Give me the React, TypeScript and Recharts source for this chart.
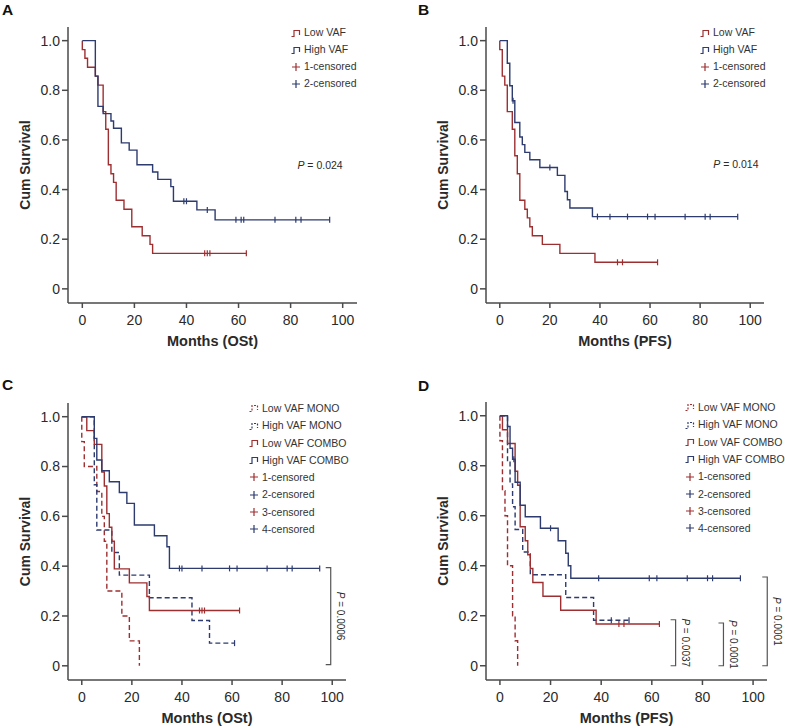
import React from 'react'
import { LineChart, Line, XAxis, YAxis, Legend, ReferenceLine, ReferenceDot } from 'recharts'

const RED = '#9e2f31'
const BLUE = '#2d3b6f'
const AXIS = '#4a4a4a'
const TEXT = '#2a2a2a'
const FONT = '"Liberation Sans", Arial, Helvetica, sans-serif'

const X_TICKS = [0, 20, 40, 60, 80, 100]
const Y_TICKS = [0, 0.2, 0.4, 0.6, 0.8, 1]

// A: overall survival, low vs high VAF
const aLowT = [0, 0, 1, 2, 5, 6, 8, 9, 10, 11, 12, 13, 16, 19, 23, 26, 27]
const aLowS = [1, 0.964, 0.929, 0.893, 0.857, 0.821, 0.714, 0.643, 0.5, 0.464, 0.429, 0.357, 0.321, 0.25, 0.214, 0.179, 0.143]
const aLowCens = [47, 48, 49, 63]
const aHighT = [0, 5, 6, 8, 11, 12, 15, 18, 21, 27, 29, 34, 35, 44, 51]
const aHighS = [1, 0.857, 0.735, 0.706, 0.676, 0.647, 0.588, 0.559, 0.5, 0.471, 0.441, 0.412, 0.353, 0.318, 0.278]
const aHighCens = [39, 40, 48, 59, 61, 62, 74, 82, 84, 95]

// B: PFS, low vs high VAF
const bLowT = [0, 0, 1, 2, 3, 5, 6, 7, 8, 10, 11, 12, 13, 17, 24, 38]
const bLowS = [1, 0.964, 0.857, 0.821, 0.714, 0.643, 0.536, 0.464, 0.357, 0.321, 0.286, 0.25, 0.214, 0.179, 0.143, 0.107]
const bLowCens = [47, 49, 63]
const bHighT = [0, 3, 4, 5, 6, 8, 9, 10, 12, 16, 23, 26, 27, 28, 37]
const bHighS = [1, 0.909, 0.818, 0.758, 0.67, 0.612, 0.581, 0.55, 0.52, 0.489, 0.457, 0.392, 0.359, 0.326, 0.291]
const bHighCens = [5.3, 20, 39, 44, 51, 59, 62, 74, 82, 84, 95]

// C: overall survival by VAF x treatment
const cLoMonoT = [0, 0, 1, 6, 8, 9, 10, 16, 19, 23]
const cLoMonoS = [1, 0.9, 0.8, 0.7, 0.6, 0.5, 0.3, 0.2, 0.1, 0]
const cHiMonoT = [0, 5, 6, 12, 15, 27, 44, 51]
const cHiMonoS = [1, 0.727, 0.545, 0.455, 0.364, 0.273, 0.182, 0.091]
const cHiMonoCens = [61]
const cLoComboT = [0, 2, 5, 8, 9, 10, 11, 12, 13, 19, 26, 27]
const cLoComboS = [1, 0.944, 0.889, 0.778, 0.722, 0.611, 0.556, 0.5, 0.389, 0.333, 0.278, 0.222]
const cLoComboCens = [47, 48, 49, 63]
const cHiComboT = [0, 5, 6, 8, 11, 15, 18, 21, 29, 34, 35]
const cHiComboS = [1, 0.913, 0.826, 0.783, 0.739, 0.696, 0.652, 0.565, 0.522, 0.478, 0.391]
const cHiComboCens = [39, 40, 48, 59, 62, 74, 82, 84, 95]

// D: PFS by VAF x treatment
const dLoMonoT = [0, 0, 1, 2, 3, 5, 6, 7]
const dLoMonoS = [1, 0.9, 0.7, 0.6, 0.4, 0.2, 0.1, 0]
const dHiMonoT = [0, 3, 4, 5, 6, 9, 12, 26, 37]
const dHiMonoS = [1, 0.818, 0.727, 0.636, 0.545, 0.455, 0.364, 0.273, 0.182]
const dHiMonoCens = [44, 51]
const dLoComboT = [0, 1, 3, 6, 7, 8, 10, 11, 12, 13, 17, 24, 38]
const dLoComboS = [1, 0.944, 0.889, 0.778, 0.722, 0.556, 0.5, 0.444, 0.389, 0.333, 0.278, 0.222, 0.167]
const dLoComboCens = [47, 49, 63]
const dHiComboT = [0, 3, 4, 5, 6, 8, 10, 16, 23, 26, 27, 28]
const dHiComboS = [1, 0.957, 0.87, 0.826, 0.734, 0.642, 0.596, 0.55, 0.5, 0.45, 0.4, 0.35]
const dHiComboCens = [5.5, 20, 39, 59, 62, 74, 82, 84, 95]

// p-value annotations
const aP = { x: 100, y: 0.5, p: '0.024' }
const bP = { x: 103.3, y: 0.505, p: '0.014' }
const cBrackets = [{ x: 99.4, top: 0.394, bottom: 0.005, p: '0.0006' }]
const dBrackets = [
  { x: 69.4, top: 0.184, bottom: 0, p: '0.0037' },
  { x: 88.3, top: 0.171, bottom: 0, p: '0.0001' },
  { x: 105.6, top: 0.355, bottom: 0, p: '0.0001' },
]

type Pt = { t: number; s: number; c?: boolean }
type Series = { data: Pt[]; color: string; dashed?: boolean }
type LegendItem = { label: string; kind: 'step' | 'dash' | 'cens'; color: string }
type Bracket = { x: number; top: number; bottom: number; p: string }

// step points + censor marks (a censor sits on the current step value)
function km(times: number[], surv: number[], cens: number[] = []): Pt[] {
  const pts: Pt[] = times.map((t, i) => ({ t, s: surv[i] }))
  cens.forEach((t) => {
    let s = surv[0]
    times.forEach((et, i) => {
      if (et <= t) s = surv[i]
    })
    pts.push({ t, s, c: true })
  })
  return pts.sort((a, b) => a.t - b.t || (a.c ? 1 : 0) - (b.c ? 1 : 0))
}

const twoGroupLegend: LegendItem[] = [
  { label: 'Low VAF', kind: 'step', color: RED },
  { label: 'High VAF', kind: 'step', color: BLUE },
  { label: '1-censored', kind: 'cens', color: RED },
  { label: '2-censored', kind: 'cens', color: BLUE },
]
const fourGroupLegend: LegendItem[] = [
  { label: 'Low VAF MONO', kind: 'dash', color: RED },
  { label: 'High VAF MONO', kind: 'dash', color: BLUE },
  { label: 'Low VAF COMBO', kind: 'step', color: RED },
  { label: 'High VAF COMBO', kind: 'step', color: BLUE },
  { label: '1-censored', kind: 'cens', color: RED },
  { label: '2-censored', kind: 'cens', color: BLUE },
  { label: '3-censored', kind: 'cens', color: RED },
  { label: '4-censored', kind: 'cens', color: BLUE },
]

const censorDot = (color: string) => (props: any) => {
  const { cx, cy, payload, index } = props
  if (!payload || !payload.c) return <g key={index} />
  return <line key={index} x1={cx} x2={cx} y1={cy - 3} y2={cy + 3} stroke={color} strokeWidth={1.2} />
}

function Glyph({ kind, color }: { kind: string; color: string }) {
  if (kind === 'cens') {
    return (
      <svg width={10} height={10}>
        <path d="M5 1V9M1 5H9" stroke={color} strokeWidth={1.2} fill="none" />
      </svg>
    )
  }
  return (
    <svg width={10} height={10}>
      <path
        d="M0.5 8.5H3V2.5H8.5V7"
        fill="none"
        stroke={color}
        strokeWidth={1.2}
        strokeDasharray={kind === 'dash' ? '2 1.5' : undefined}
      />
    </svg>
  )
}

function LegendBox({ items, rowH }: { items: LegendItem[]; rowH: number }) {
  return (
    <div style={{ fontFamily: FONT, fontSize: 10.5, color: '#333', lineHeight: 1 }}>
      {items.map((it, i) => (
        <div key={i} style={{ height: rowH, display: 'flex', alignItems: 'center', whiteSpace: 'nowrap' }}>
          <Glyph kind={it.kind} color={it.color} />
          <span style={{ marginLeft: 3 }}>{it.label}</span>
        </div>
      ))}
    </div>
  )
}

function PText({ cx, cy, value }: { cx: number; cy: number; value: string }) {
  return (
    <text x={cx} y={cy} textAnchor="end" dominantBaseline="central" fontSize={10.5} fontFamily={FONT} fill={TEXT}>
      <tspan fontStyle="italic">P</tspan> = {value}
    </text>
  )
}

function BracketShape(props: any) {
  const { x1, y1, y2, value } = props
  const top = Math.min(y1, y2)
  const bot = Math.max(y1, y2)
  const tx = x1 + 10
  const ty = (top + bot) / 2
  return (
    <g>
      <path d={`M${x1 - 5},${top}H${x1}V${bot}H${x1 - 5}`} fill="none" stroke="#555" strokeWidth={1.2} />
      <text
        x={tx}
        y={ty}
        transform={`rotate(90, ${tx}, ${ty})`}
        textAnchor="middle"
        dominantBaseline="central"
        fontSize={10}
        fontFamily={FONT}
        fill={TEXT}
      >
        <tspan fontStyle="italic">P</tspan> = {value}
      </text>
    </g>
  )
}

interface PanelProps {
  left: number
  top: number
  width: number
  height: number
  margin: { top: number; right: number; bottom: number; left: number }
  xLabel: string
  series: Series[]
  legend: LegendItem[]
  legendLeft: number
  legendTop: number
  rowH: number
  pNote?: { x: number; y: number; p: string }
  brackets?: Bracket[]
}

function Panel({ left, top, width, height, margin, xLabel, series, legend, legendLeft, legendTop, rowH, pNote, brackets = [] }: PanelProps) {
  const tickStyle = { fill: TEXT, fontSize: 14, fontFamily: FONT }
  return (
    <div style={{ position: 'absolute', left, top }}>
      <LineChart width={width} height={height} margin={margin}>
        <XAxis
          type="number"
          dataKey="t"
          domain={[-5.5, 105.5]}
          ticks={X_TICKS}
          allowDataOverflow
          height={48}
          tickSize={5}
          tickMargin={7}
          tick={tickStyle}
          stroke={AXIS}
          strokeWidth={1.5}
          label={{ value: xLabel, position: 'insideBottom', offset: 5, fill: TEXT, fontSize: 14.5, fontWeight: 'bold', fontFamily: FONT }}
        />
        <YAxis
          type="number"
          domain={[-0.057, 1.055]}
          ticks={Y_TICKS}
          allowDataOverflow
          width={68}
          tickSize={6}
          tickMargin={2}
          tick={tickStyle}
          tickFormatter={(v: number) => (v === 0 ? '0' : v.toFixed(1))}
          stroke={AXIS}
          strokeWidth={1.5}
          label={{ value: 'Cum Survival', angle: -90, position: 'center', dx: -9, fill: TEXT, fontSize: 14, fontWeight: 'bold', fontFamily: FONT }}
        />
        {series.map((s, i) => (
          <Line
            key={i}
            data={s.data}
            dataKey="s"
            type="stepAfter"
            stroke={s.color}
            strokeWidth={1.4}
            strokeDasharray={s.dashed ? '5 3' : undefined}
            dot={censorDot(s.color)}
            activeDot={false}
            isAnimationActive={false}
          />
        ))}
        {pNote && (
          <ReferenceDot
            x={pNote.x}
            y={pNote.y}
            r={0}
            ifOverflow="visible"
            shape={(p: any) => <PText cx={p.cx} cy={p.cy} value={pNote.p} />}
          />
        )}
        {brackets.map((b, i) => (
          <ReferenceLine
            key={'br' + i}
            segment={[{ x: b.x, y: b.top }, { x: b.x, y: b.bottom }]}
            ifOverflow="visible"
            shape={(p: any) => <BracketShape {...p} value={b.p} />}
          />
        ))}
        <Legend
          layout="vertical"
          verticalAlign="middle"
          align="center"
          wrapperStyle={{ left: legendLeft, top: legendTop, width: 'auto', height: 'auto' }}
          content={() => <LegendBox items={legend} rowH={rowH} />}
        />
      </LineChart>
    </div>
  )
}

const letterStyle = (left: number, top: number): React.CSSProperties => ({
  position: 'absolute',
  left,
  top,
  fontFamily: FONT,
  fontWeight: 'bold',
  fontSize: 15.5,
  lineHeight: 1,
  color: '#111',
})

export default function App() {
  return (
    <div style={{ position: 'absolute', left: 0, top: 0, width: 785, height: 728, overflow: 'hidden', background: '#fff' }}>
      <div style={letterStyle(2, 2)}>A</div>
      <div style={letterStyle(418, 2)}>B</div>
      <div style={letterStyle(2, 377)}>C</div>
      <div style={letterStyle(418, 378)}>D</div>
      <Panel
        left={0}
        top={0}
        width={392}
        height={360}
        margin={{ top: 27, right: 35, bottom: 9, left: 0 }}
        xLabel="Months (OSt)"
        series={[
          { data: km(aLowT, aLowS, aLowCens), color: RED },
          { data: km(aHighT, aHighS, aHighCens), color: BLUE },
        ]}
        legend={twoGroupLegend}
        legendLeft={291}
        legendTop={24}
        rowH={17}
        pNote={aP}
      />
      <Panel
        left={418}
        top={0}
        width={367}
        height={360}
        margin={{ top: 27, right: 21, bottom: 9, left: 0 }}
        xLabel="Months (PFS)"
        series={[
          { data: km(bLowT, bLowS, bLowCens), color: RED },
          { data: km(bHighT, bHighS, bHighCens), color: BLUE },
        ]}
        legend={twoGroupLegend}
        legendLeft={282}
        legendTop={24}
        rowH={17}
        pNote={bP}
      />
      <Panel
        left={0}
        top={375}
        width={392}
        height={353}
        margin={{ top: 28, right: 46, bottom: 0, left: 0 }}
        xLabel="Months (OSt)"
        series={[
          { data: km(cLoMonoT, cLoMonoS), color: RED, dashed: true },
          { data: km(cHiMonoT, cHiMonoS, cHiMonoCens), color: BLUE, dashed: true },
          { data: km(cLoComboT, cLoComboS, cLoComboCens), color: RED },
          { data: km(cHiComboT, cHiComboS, cHiComboCens), color: BLUE },
        ]}
        legend={fourGroupLegend}
        legendLeft={249}
        legendTop={24.6}
        rowH={17.3}
        brackets={cBrackets}
      />
      <Panel
        left={418}
        top={375}
        width={367}
        height={353}
        margin={{ top: 27, right: 18, bottom: 0, left: 0 }}
        xLabel="Months (PFS)"
        series={[
          { data: km(dLoMonoT, dLoMonoS), color: RED, dashed: true },
          { data: km(dHiMonoT, dHiMonoS, dHiMonoCens), color: BLUE, dashed: true },
          { data: km(dLoComboT, dLoComboS, dLoComboCens), color: RED },
          { data: km(dHiComboT, dHiComboS, dHiComboCens), color: BLUE },
        ]}
        legend={fourGroupLegend}
        legendLeft={267}
        legendTop={23.7}
        rowH={17.3}
        brackets={dBrackets}
      />
    </div>
  )
}
